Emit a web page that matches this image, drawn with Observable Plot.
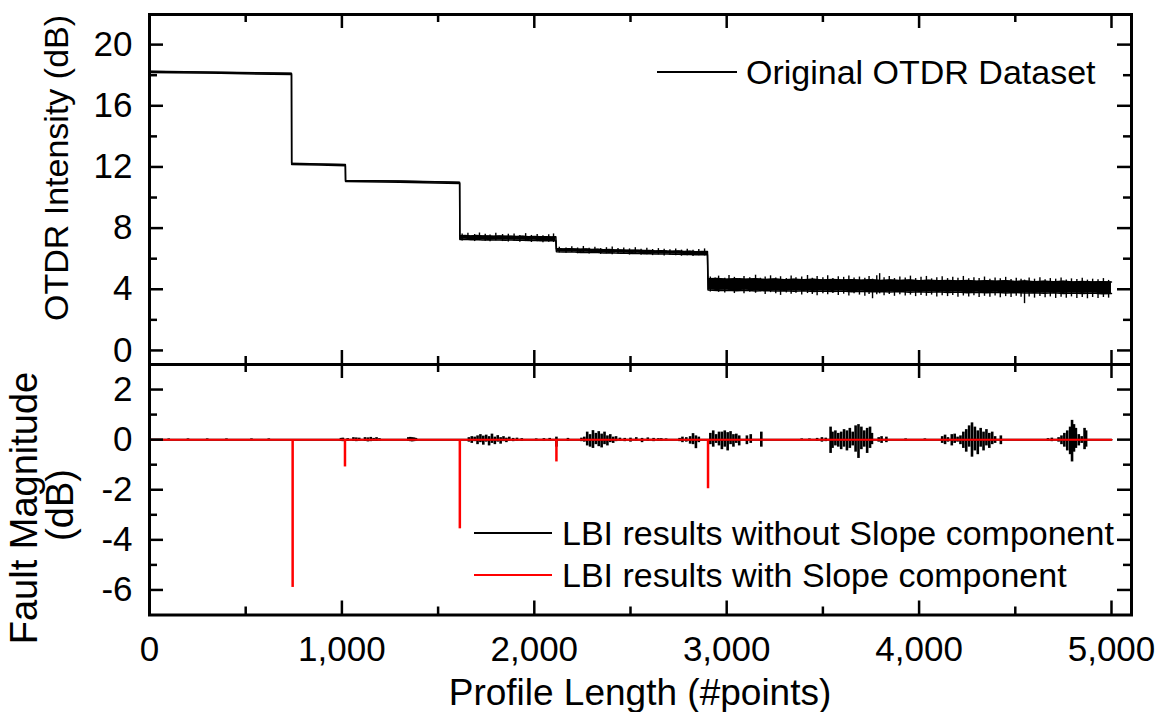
<!DOCTYPE html>
<html>
<head>
<meta charset="utf-8">
<script src="https://cdn.jsdelivr.net/npm/d3@7"></script>
<script src="https://cdn.jsdelivr.net/npm/@observablehq/plot@0.6"></script>
<style>
  html, body { margin: 0; padding: 0; background: #fff; }
  #wrap { position: relative; width: 1158px; height: 712px; overflow: hidden; font-family: "Liberation Sans", Arial, sans-serif; }
  #wrap svg { position: absolute; left: 0; overflow: visible; background: transparent; }
</style>
</head>
<body>
<div id="wrap"></div>
<script>
// ---------- Data ----------
const xMajor = [0, 1000, 2000, 3000, 4000, 5000];
const xMinor = [500, 1500, 2500, 3500, 4500];
const topMajor = [0, 4, 8, 12, 16, 20];
const topMinor = [2, 6, 10, 14, 18];
const botMajor = [-6, -4, -2, 0, 2];
const botMinor = [-5, -3, -1, 1];

// Original OTDR dataset: core envelope (low / high) of the trace
const traceX = [0, 370, 738, 739, 880, 1018, 1019, 1300, 1612,
  1613, 1640, 1670, 1700, 1730, 1760, 1790, 1820, 1850, 1880, 1910, 1940, 1970, 2000, 2030, 2060, 2090, 2112,
  2115, 2150, 2180, 2210, 2240, 2270, 2300, 2330, 2360, 2390, 2420, 2450, 2480, 2510, 2540, 2570, 2600, 2630, 2660, 2690, 2720, 2750, 2780, 2810, 2840, 2870, 2900,
  2903, 2950, 3000, 3050, 3100, 3150, 3200, 3250, 3300, 3350, 3400, 3450, 3500, 3550, 3600, 3650, 3700, 3750, 3800, 3850, 3900, 3950, 4000, 4050, 4100, 4150, 4200, 4250, 4300, 4350, 4400, 4450, 4500, 4550, 4600, 4650, 4700, 4750, 4800, 4850, 4900, 4950, 5000];
const traceLo = [18.18, 18.12, 18.04, 12.16, 12.12, 12.08, 11.05, 11.0, 10.92,
  7.25, 7.27, 7.24, 7.26, 7.23, 7.24, 7.22, 7.23, 7.21, 7.22, 7.20, 7.21, 7.19, 7.20, 7.18, 7.19, 7.17, 7.18,
  6.45, 6.44, 6.43, 6.44, 6.41, 6.42, 6.40, 6.41, 6.38, 6.39, 6.37, 6.36, 6.36, 6.34, 6.35, 6.33, 6.33, 6.31, 6.31, 6.30, 6.29, 6.29, 6.27, 6.28, 6.26, 6.27, 6.26,
  3.95, 3.92, 3.94, 3.90, 3.93, 3.89, 3.92, 3.88, 3.91, 3.87, 3.90, 3.86, 3.89, 3.85, 3.88, 3.84, 3.87, 3.83, 3.86, 3.82, 3.85, 3.81, 3.84, 3.80, 3.83, 3.79, 3.82, 3.78, 3.81, 3.77, 3.80, 3.76, 3.79, 3.75, 3.78, 3.74, 3.77, 3.73, 3.76, 3.72, 3.75, 3.71, 3.73];
const traceHi = [18.26, 18.20, 18.12, 12.24, 12.20, 12.16, 11.12, 11.08, 11.00,
  7.50, 7.52, 7.49, 7.51, 7.48, 7.49, 7.47, 7.48, 7.46, 7.47, 7.45, 7.46, 7.44, 7.45, 7.43, 7.44, 7.42, 7.43,
  6.66, 6.64, 6.65, 6.64, 6.62, 6.63, 6.60, 6.61, 6.58, 6.60, 6.57, 6.57, 6.56, 6.55, 6.55, 6.53, 6.54, 6.51, 6.52, 6.50, 6.49, 6.50, 6.47, 6.48, 6.46, 6.47, 6.47,
  4.68, 4.70, 4.66, 4.69, 4.65, 4.68, 4.64, 4.67, 4.63, 4.66, 4.62, 4.65, 4.61, 4.64, 4.60, 4.63, 4.59, 4.62, 4.58, 4.61, 4.57, 4.60, 4.56, 4.59, 4.55, 4.58, 4.54, 4.57, 4.53, 4.56, 4.52, 4.55, 4.51, 4.54, 4.50, 4.53, 4.49, 4.52, 4.48, 4.51, 4.47, 4.50, 4.47];

// Original OTDR dataset: individual noise excursions (low / high)
const noiseX = [1625, 1655, 1690, 1715, 1745, 1770, 1800, 1835, 1865, 1895, 1925, 1955, 1985, 2015, 2045, 2075, 2100,
  2130, 2165, 2195, 2225, 2255, 2285, 2315, 2345, 2375, 2405, 2435, 2465, 2495, 2525, 2555, 2585, 2615, 2645, 2675, 2705, 2735, 2765, 2795, 2825, 2855, 2885,
  2915, 2940, 2958, 2990, 3012, 3040, 3068, 3090, 3120, 3150, 3175, 3200, 3228, 3255, 3280, 3310, 3335, 3360, 3390, 3420, 3445, 3470, 3500, 3525, 3552, 3580, 3608, 3635, 3662, 3690, 3718, 3740, 3758, 3780, 3795, 3818, 3845, 3872, 3900, 3928, 3955, 3982, 4010, 4038, 4065, 4092, 4120, 4148, 4175, 4202, 4230, 4258, 4285, 4312, 4340, 4368, 4395, 4422, 4450, 4478, 4505, 4530, 4548, 4572, 4600, 4628, 4655, 4682, 4710, 4738, 4765, 4792, 4820, 4848, 4875, 4902, 4930, 4958, 4985];
const noiseLo = [7.15, 7.20, 7.12, 7.18, 7.14, 7.10, 7.17, 7.12, 7.09, 7.14, 7.08, 7.12, 7.06, 7.10, 7.05, 7.08, 7.06,
  6.38, 6.35, 6.40, 6.32, 6.36, 6.30, 6.34, 6.28, 6.32, 6.26, 6.30, 6.28, 6.24, 6.30, 6.22, 6.26, 6.20, 6.25, 6.18, 6.22, 6.20, 6.16, 6.20, 6.15, 6.20, 6.18,
  3.82, 3.88, 3.80, 3.76, 3.85, 3.72, 3.86, 3.70, 3.80, 3.74, 3.84, 3.66, 3.78, 3.70, 3.60, 3.76, 3.68, 3.74, 3.62, 3.72, 3.66, 3.58, 3.70, 3.64, 3.72, 3.60, 3.68, 3.56, 3.70, 3.62, 3.55, 3.66, 3.38, 3.64, 3.70, 3.58, 3.66, 3.54, 3.64, 3.56, 3.62, 3.52, 3.60, 3.54, 3.62, 3.50, 3.58, 3.52, 3.60, 3.48, 3.56, 3.50, 3.58, 3.46, 3.54, 3.48, 3.56, 3.44, 3.52, 3.46, 3.54, 3.48, 3.06, 3.50, 3.42, 3.52, 3.44, 3.50, 3.40, 3.48, 3.42, 3.50, 3.40, 3.46, 3.38, 3.46, 3.40, 3.46, 3.42];
const noiseHi = [7.62, 7.66, 7.58, 7.68, 7.60, 7.55, 7.66, 7.58, 7.60, 7.62, 7.52, 7.64, 7.52, 7.58, 7.50, 7.56, 7.62,
  6.75, 6.70, 6.78, 6.70, 6.80, 6.68, 6.74, 6.66, 6.72, 6.76, 6.66, 6.70, 6.64, 6.72, 6.62, 6.68, 6.60, 6.66, 6.62, 6.58, 6.64, 6.56, 6.62, 6.55, 6.60, 6.64,
  4.80, 4.74, 4.86, 4.72, 4.90, 4.78, 4.70, 4.84, 4.76, 4.92, 4.72, 4.80, 4.88, 4.74, 4.82, 4.70, 4.86, 4.76, 4.80, 4.90, 4.72, 4.84, 4.76, 4.88, 4.70, 4.82, 4.78, 4.86, 4.74, 4.80, 4.72, 4.84, 4.66, 4.88, 5.02, 4.76, 4.84, 4.70, 4.80, 4.74, 4.86, 4.70, 4.78, 4.84, 4.68, 4.76, 4.82, 4.70, 4.78, 4.72, 4.84, 4.68, 4.76, 4.70, 4.80, 4.66, 4.74, 4.68, 4.78, 4.64, 4.72, 4.66, 4.60, 4.74, 4.66, 4.76, 4.62, 4.70, 4.66, 4.74, 4.60, 4.68, 4.64, 4.72, 4.60, 4.66, 4.62, 4.70, 4.58];

// LBI results without slope component: bursts (low / high)
const burstX = [100, 200, 300, 400, 530, 620,
  995, 1005, 1030, 1060, 1075, 1090, 1120, 1135, 1150, 1165, 1180, 1195,
  1345, 1355, 1365, 1375, 1385,
  1660, 1675, 1690, 1705, 1720, 1735, 1750, 1765, 1780, 1795, 1810, 1825, 1840, 1855, 1870, 1890, 1910, 1935,
  2010, 2050, 2080, 2115, 2175,
  2245, 2260, 2275, 2290, 2305, 2320, 2335, 2350, 2365, 2380, 2395, 2410, 2425, 2445,
  2470, 2500, 2530, 2560, 2590, 2620, 2645, 2660, 2685,
  2755, 2770, 2790, 2810, 2825, 2840, 2855,
  2915, 2930, 2945, 2960, 2975, 2990, 3005, 3020, 3035, 3050, 3065,
  3105, 3125, 3180,
  3390, 3430, 3470, 3495, 3515,
  3540, 3550, 3565, 3580, 3595, 3610, 3625, 3640, 3655, 3670, 3685, 3700, 3715, 3730, 3745, 3755,
  3790, 3805, 3830, 3930, 4030,
  4120, 4135, 4150, 4170, 4185, 4200, 4215, 4230, 4245, 4260, 4275, 4290, 4305, 4320, 4335, 4350, 4365, 4380, 4395, 4425,
  4670, 4690,
  4725, 4740, 4755, 4770, 4785, 4795, 4805, 4815, 4830, 4845, 4860, 4868];
const burstLo = [-0.03, -0.03, -0.03, -0.03, -0.03, -0.03,
  -0.06, -0.08, -0.05, -0.06, -0.08, -0.05, -0.07, -0.09, -0.08, -0.06, -0.07, -0.05,
  -0.06, -0.08, -0.09, -0.08, -0.05,
  -0.10, -0.15, -0.08, -0.20, -0.12, -0.22, -0.10, -0.25, -0.15, -0.20, -0.10, -0.18, -0.08, -0.12, -0.05, -0.08, -0.05, -0.06,
  -0.04, -0.05, -0.04, -0.30, -0.06,
  -0.08, -0.10, -0.25, -0.30, -0.35, -0.20, -0.28, -0.33, -0.20, -0.25, -0.12, -0.15, -0.08, -0.05,
  -0.08, -0.10, -0.05, -0.12, -0.06, -0.08, -0.05, -0.05, -0.04,
  -0.08, -0.12, -0.10, -0.18, -0.20, -0.36, -0.12,
  -0.20, -0.30, -0.15, -0.25, -0.40, -0.30, -0.45, -0.20, -0.30, -0.15, -0.25,
  -0.20, -0.15, -0.30,
  -0.03, -0.04, -0.06, -0.10, -0.08,
  -0.55, -0.35, -0.25, -0.30, -0.40, -0.30, -0.45, -0.35, -0.25, -0.50, -0.75, -0.40, -0.30, -0.55, -0.35, -0.20,
  -0.10, -0.15, -0.12, -0.04, -0.03,
  -0.15, -0.20, -0.10, -0.25, -0.15, -0.10, -0.20, -0.35, -0.50, -0.30, -0.70, -0.45, -0.60, -0.30, -0.45, -0.25, -0.35, -0.20, -0.15, -0.20,
  -0.05, -0.08,
  -0.10, -0.20, -0.30, -0.45, -0.60, -0.89, -0.50, -0.35, -0.25, -0.15, -0.40, -0.30];
const burstHi = [0.03, 0.03, 0.03, 0.03, 0.03, 0.03,
  0.05, 0.06, 0.04, 0.08, 0.07, 0.06, 0.08, 0.07, 0.09, 0.05, 0.08, 0.04,
  0.08, 0.09, 0.08, 0.07, 0.05,
  0.08, 0.12, 0.10, 0.15, 0.20, 0.14, 0.18, 0.12, 0.22, 0.10, 0.16, 0.08, 0.12, 0.06, 0.10, 0.05, 0.06, 0.04,
  0.03, 0.04, 0.05, 0.10, 0.05,
  0.06, 0.10, 0.30, 0.20, 0.36, 0.25, 0.32, 0.22, 0.30, 0.15, 0.20, 0.10, 0.12, 0.06,
  0.05, 0.06, 0.08, 0.05, 0.07, 0.05, 0.04, 0.04, 0.03,
  0.05, 0.10, 0.08, 0.12, 0.24, 0.15, 0.10,
  0.25, 0.35, 0.20, 0.30, 0.30, 0.35, 0.28, 0.32, 0.20, 0.22, 0.15,
  0.15, 0.20, 0.30,
  0.03, 0.03, 0.05, 0.08, 0.06,
  0.50, 0.30, 0.35, 0.25, 0.30, 0.40, 0.35, 0.45, 0.30, 0.55, 0.60, 0.50, 0.35, 0.45, 0.50, 0.25,
  0.08, 0.12, 0.10, 0.03, 0.03,
  0.12, 0.18, 0.08, 0.20, 0.22, 0.10, 0.15, 0.30, 0.40, 0.55, 0.67, 0.50, 0.35, 0.45, 0.30, 0.40, 0.25, 0.30, 0.12, 0.15,
  0.04, 0.06,
  0.08, 0.15, 0.25, 0.35, 0.50, 0.77, 0.60, 0.45, 0.20, 0.12, 0.45, 0.35];

// LBI results with slope component: baseline and fault spikes
const baseX = [0, 5000];
const baseY = [0, 0];
const spikeX = [744, 1016, 1613, 2115, 2903];
const spikeY = [-5.9, -1.09, -3.56, -0.89, -1.96];

// ---------- Layout ----------
const W = 1158;
const ML = 149, MR = 27;
const xDomain = [0, 5104];
const font = '"Liberation Sans", Arial, sans-serif';
const tickFont = 35;
const MAJ = 14, MIN = 8;

const trace = traceX.map((x, i) => ({x, lo: traceLo[i], hi: traceHi[i]}));
const noise = noiseX.map((x, i) => ({x, lo: noiseLo[i], hi: noiseHi[i]}));
const bursts = burstX.map((x, i) => ({x, lo: burstLo[i], hi: burstHi[i]}));
const base = baseX.map((x, i) => ({x, y: baseY[i]}));
const spikes = spikeX.map((x, i) => ({x, y: spikeY[i]}));

function tickMarks(innerW, innerH, xMaj, xMin, yMaj, yMin) {
  const s = {stroke: "black", strokeWidth: 2.5};
  return [
    Plot.tickX(xMaj, {x: d => d, insetTop: innerH - MAJ, ...s}),
    Plot.tickX(xMaj, {x: d => d, insetBottom: innerH - MAJ, ...s}),
    Plot.tickX(xMin, {x: d => d, insetTop: innerH - MIN, ...s}),
    Plot.tickX(xMin, {x: d => d, insetBottom: innerH - MIN, ...s}),
    Plot.tickY(yMaj, {y: d => d, insetRight: innerW - MAJ, ...s}),
    Plot.tickY(yMaj, {y: d => d, insetLeft: innerW - MAJ, ...s}),
    Plot.tickY(yMin, {y: d => d, insetRight: innerW - MIN, ...s}),
    Plot.tickY(yMin, {y: d => d, insetLeft: innerW - MIN, ...s})
  ];
}

// Top panel: plot area y 14 .. 364
const topH = 366, topMT = 14, topMB = 2;
const innerW = W - ML - MR;
const topInnerH = topH - topMT - topMB;
const topPlot = Plot.plot({
  width: W, height: topH,
  marginLeft: ML, marginRight: MR, marginTop: topMT, marginBottom: topMB,
  style: {fontFamily: font, background: "transparent", overflow: "visible"},
  x: {domain: xDomain, axis: null},
  y: {domain: [-0.92, 21.97], axis: null},
  marks: [
    Plot.areaY(trace, {x: "x", y1: "lo", y2: "hi", fill: "black"}),
    Plot.line(trace, {x: "x", y: "lo", stroke: "black", strokeWidth: 1.5}),
    Plot.line(trace, {x: "x", y: "hi", stroke: "black", strokeWidth: 1.5}),
    Plot.ruleX(noise, {x: "x", y1: "lo", y2: "hi", stroke: "black", strokeWidth: 1.4}),
    ...tickMarks(innerW, topInnerH, xMajor, xMinor, topMajor, topMinor),
    Plot.text(topMajor, {y: d => d, frameAnchor: "left", dx: -17, textAnchor: "end", text: d => String(d), fontSize: tickFont, fill: "black"}),
    Plot.frame({stroke: "black", strokeWidth: 3})
  ]
});
topPlot.style.top = "0px";

// Bottom panel: plot area y 364 .. 614.5 (svg placed at page y 340)
const botTop = 340, botH = 372, botMT = 24, botMB = 97.5;
const botInnerH = botH - botMT - botMB;
const botPlot = Plot.plot({
  width: W, height: botH,
  marginLeft: ML, marginRight: MR, marginTop: botMT, marginBottom: botMB,
  style: {fontFamily: font, background: "transparent", overflow: "visible"},
  x: {domain: xDomain, axis: null},
  y: {domain: [-7.0, 3.0], axis: null},
  marks: [
    Plot.line(base, {x: "x", y: "y", stroke: "black", strokeWidth: 2}),
    Plot.ruleX(bursts, {x: "x", y1: "lo", y2: "hi", stroke: "black", strokeWidth: 2.6}),
    Plot.line(base, {x: "x", y: "y", stroke: "#ff0000", strokeWidth: 2}),
    Plot.ruleX(spikes, {x: "x", y1: 0, y2: "y", stroke: "#ff0000", strokeWidth: 2.5}),
    ...tickMarks(innerW, botInnerH, xMajor, xMinor, botMajor, botMinor),
    Plot.text(botMajor, {y: d => d, frameAnchor: "left", dx: -17, textAnchor: "end", text: d => String(d), fontSize: tickFont, fill: "black"}),
    Plot.text(xMajor, {x: d => d, frameAnchor: "bottom", dy: 21, lineAnchor: "top", text: d => d3.format(",")(d), fontSize: tickFont, fill: "black"}),
    Plot.frame({stroke: "black", strokeWidth: 3})
  ]
});
botPlot.style.top = botTop + "px";

const wrap = document.getElementById("wrap");
wrap.appendChild(topPlot);
wrap.appendChild(botPlot);

// ---------- Titles and legends (overlay, page coordinates) ----------
const ov = d3.select(wrap).append("svg")
  .attr("width", W).attr("height", 712)
  .style("top", "0px")
  .attr("font-family", font)
  .attr("fill", "black");

ov.append("text")
  .attr("transform", "translate(640,705)")
  .attr("text-anchor", "middle")
  .attr("font-size", 37)
  .text("Profile Length (#points)");

ov.append("text")
  .attr("transform", "translate(56.5,168) rotate(-90)")
  .attr("text-anchor", "middle").attr("dy", "0.35em")
  .attr("font-size", 34)
  .text("OTDR Intensity (dB)");

ov.append("text")
  .attr("transform", "translate(23.5,508) rotate(-90)")
  .attr("text-anchor", "middle").attr("dy", "0.35em")
  .attr("font-size", 38)
  .text("Fault Magnitude");

ov.append("text")
  .attr("transform", "translate(60,505) rotate(-90)")
  .attr("text-anchor", "middle").attr("dy", "0.35em")
  .attr("font-size", 38)
  .text("(dB)");

// Top legend
ov.append("line").attr("x1", 657).attr("x2", 737).attr("y1", 72).attr("y2", 72)
  .attr("stroke", "black").attr("stroke-width", 2);
ov.append("text").attr("x", 746).attr("y", 84).attr("font-size", 34).text("Original OTDR Dataset");

// Bottom legend
ov.append("line").attr("x1", 474).attr("x2", 552).attr("y1", 533).attr("y2", 533)
  .attr("stroke", "black").attr("stroke-width", 2);
ov.append("text").attr("x", 562).attr("y", 545).attr("font-size", 34).text("LBI results without Slope component");
ov.append("line").attr("x1", 474).attr("x2", 552).attr("y1", 575).attr("y2", 575)
  .attr("stroke", "#ff0000").attr("stroke-width", 2);
ov.append("text").attr("x", 562).attr("y", 587).attr("font-size", 34).text("LBI results with Slope component");
</script>
</body>
</html>
